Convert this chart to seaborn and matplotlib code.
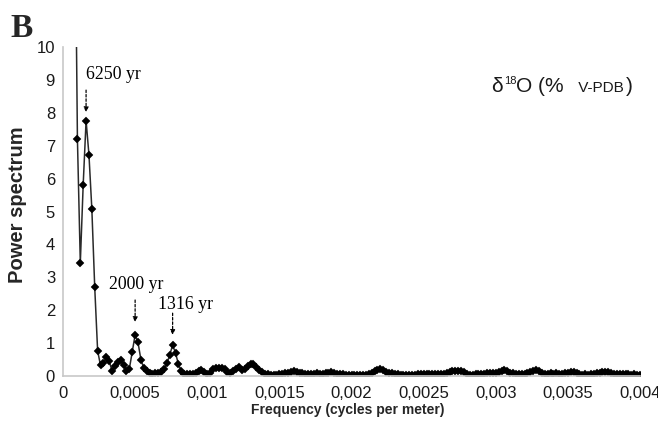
import matplotlib
matplotlib.use("Agg")
import matplotlib.pyplot as plt
import matplotlib.ticker as mticker
import numpy as np
import pandas as pd
import seaborn as sns

# Spectral estimate of the δ18O series, sampled every 0.00002 cycles per meter
freq_start = 0.00008
freq_step = 0.00002
power = [
    16.0, 7.20, 3.44, 5.82, 7.76, 6.72, 5.07, 2.69, 0.77, 0.32,
    0.40, 0.57, 0.46, 0.15, 0.30, 0.42, 0.48, 0.34, 0.15, 0.22,
    0.74, 1.25, 1.02, 0.50, 0.24, 0.14, 0.09, 0.07, 0.10, 0.09,
    0.13, 0.20, 0.38, 0.64, 0.94, 0.70, 0.36, 0.14, 0.07, 0.05,
    0.06, 0.06, 0.09, 0.16, 0.19, 0.11, 0.06, 0.10, 0.20, 0.24,
    0.23, 0.24, 0.20, 0.12, 0.10, 0.16, 0.22, 0.26, 0.18, 0.20,
    0.30, 0.36, 0.37, 0.26, 0.18, 0.12, 0.07, 0.05, 0.04, 0.04,
    0.03, 0.05, 0.06, 0.08, 0.09, 0.12, 0.14, 0.13, 0.10, 0.08,
    0.07, 0.07, 0.06, 0.07, 0.08, 0.07, 0.06, 0.08, 0.10, 0.12,
    0.09, 0.06, 0.05, 0.05, 0.04, 0.04, 0.03, 0.03, 0.03, 0.04,
    0.03, 0.04, 0.06, 0.10, 0.14, 0.19, 0.21, 0.17, 0.13, 0.10,
    0.08, 0.06, 0.05, 0.04, 0.04, 0.03, 0.04, 0.04, 0.03, 0.05,
    0.05, 0.06, 0.05, 0.06, 0.05, 0.05, 0.06, 0.05, 0.07, 0.10,
    0.13, 0.15, 0.14, 0.15, 0.14, 0.12, 0.07, 0.03, 0.04, 0.05,
    0.06, 0.06, 0.07, 0.08, 0.09, 0.10, 0.09, 0.11, 0.16, 0.18,
    0.14, 0.10, 0.08, 0.07, 0.06, 0.06, 0.07, 0.09, 0.12, 0.16,
    0.18, 0.15, 0.10, 0.07, 0.06, 0.08, 0.07, 0.08, 0.06, 0.07,
    0.08, 0.10, 0.12, 0.13, 0.10, 0.05, 0.04, 0.05, 0.04, 0.05,
    0.06, 0.08, 0.10, 0.12, 0.13, 0.12, 0.08, 0.06, 0.06, 0.07,
    0.05, 0.06, 0.05, 0.04, 0.05, 0.04, 0.03,
]
freq = freq_start + freq_step * np.arange(len(power))

# Labelled periodicities and the frequency each arrow points at
peak_labels = ["6250 yr", "2000 yr", "1316 yr"]
peak_freqs = [0.00016, 0.00050, 0.00076]

x_ticks = [0, 0.0005, 0.001, 0.0015, 0.002, 0.0025, 0.003, 0.0035, 0.004]
y_ticks = list(range(0, 11))

df = pd.DataFrame({"freq": freq, "power": power})

sns.set_style("white")
plt.rcParams["font.family"] = ["Liberation Sans", "DejaVu Sans"]

W, H = 658, 429
fig = plt.figure(figsize=(W / 100, H / 100), dpi=100)
ax = fig.add_axes([63 / W, (H - 376) / H, (640 - 63) / W, (376 - 47) / H])

sns.lineplot(data=df, x="freq", y="power", ax=ax, color="#2a2a2a",
             linewidth=1.1, marker="D", markersize=3.6,
             markerfacecolor="black", markeredgecolor="black",
             markeredgewidth=0.3, clip_on=True)

ax.set_xlim(0, 0.004)
ax.set_ylim(0, 10)
ax.set_xticks(x_ticks)
ax.set_yticks(y_ticks)
ax.xaxis.set_major_formatter(mticker.FuncFormatter(
    lambda v, p: "0" if v == 0 else ("%g" % v).replace(".", ",")))

for side in ("top", "right"):
    ax.spines[side].set_visible(False)
for side in ("left", "bottom"):
    ax.spines[side].set_color("#c8c8c8")
    ax.spines[side].set_linewidth(1.2)
ax.tick_params(axis="both", which="major", direction="out", length=2.2,
               width=1, color="#c8c8c8", labelsize=12,
               labelcolor="#1a1a1a")
ax.tick_params(axis="y", pad=3.5)
ax.tick_params(axis="x", pad=5)

ax.set_xlabel("Frequency (cycles per meter)", fontsize=10, fontweight="bold")
ax.xaxis.set_label_coords((348 - 63) / 577, (376 - 410) / 329)
ax.xaxis.label.set_va("center")
ax.set_ylabel("Power spectrum", fontsize=14.5, fontweight="bold")
ax.yaxis.set_label_coords((18 - 63) / 577, (376 - 205) / 329)
ax.yaxis.label.set_va("center")

# Period annotations with dashed arrows pointing to their peaks
label_xy = [(0.00016, 9.15), (0.00032, 2.77), (0.00066, 2.16)]
arrow_y = [(8.69, 8.02), (2.31, 1.64), (1.91, 1.25)]
for lab, fx, (tx, ty), (y0, y1) in zip(peak_labels, peak_freqs, label_xy, arrow_y):
    ax.text(tx, ty, lab, family="Liberation Serif", fontsize=12.8,
            ha="left", va="center", color="black")
    ax.annotate("", xy=(fx, y1), xytext=(fx, y0),
                arrowprops=dict(arrowstyle="-|>", color="black", lw=0.9,
                                linestyle=(0, (2, 1.5)), mutation_scale=7,
                                shrinkA=0, shrinkB=0))

# Panel letter
fig.text(10 / W, (H - 37) / H, "B", family="Liberation Serif",
         fontweight="bold", fontsize=24, ha="left", va="baseline")

# Isotope label, pieces laid out one after another on a shared baseline
renderer = fig.canvas.get_renderer()
base_px = H - 92
pieces = [("δ", 15, 0, 1), ("18", 8, 8, 0), ("O (%", 15, 0, 10),
          (" V-PDB", 11, 0, 2), (")", 15, 0, 0)]
x_px = 491
for txt, size, rise, gap in pieces:
    t = fig.text(x_px / W, (base_px + rise) / H, txt, fontsize=size,
                 ha="left", va="baseline", color="#1a1a1a")
    x_px += t.get_window_extent(renderer).width + gap

fig.savefig("out.png", dpi=100)
